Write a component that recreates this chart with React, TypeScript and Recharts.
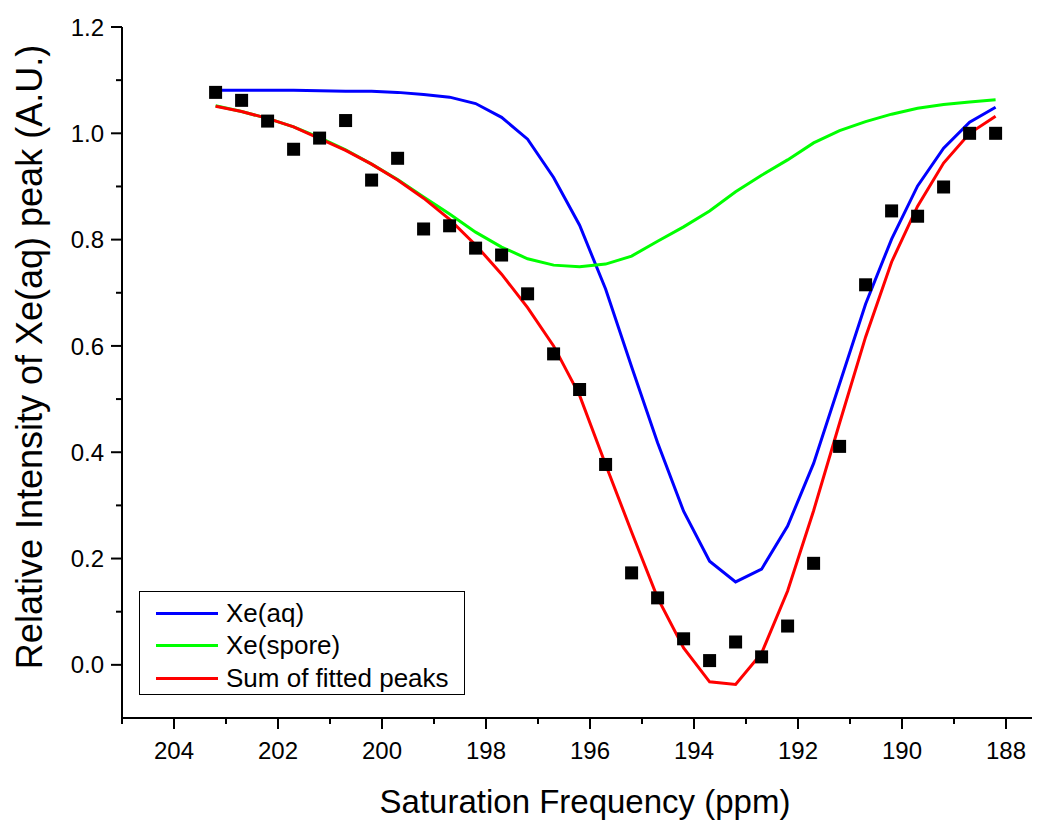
import React from "react";
import { ComposedChart, Line, Scatter, XAxis, YAxis, Label } from "recharts";

// saturation offsets (ppm), one per acquired spectrum
const freqPpm = [
  203.2, 202.7, 202.2, 201.7, 201.2, 200.7, 200.2, 199.7, 199.2, 198.7, 198.2,
  197.7, 197.2, 196.7, 196.2, 195.7, 195.2, 194.7, 194.2, 193.7, 193.2, 192.7,
  192.2, 191.7, 191.2, 190.7, 190.2, 189.7, 189.2, 188.7, 188.2,
];

// measured Xe(aq) peak intensity
const measured = [
  1.077, 1.062, 1.023, 0.97, 0.991, 1.024, 0.912, 0.953, 0.82, 0.826, 0.784,
  0.771, 0.698, 0.585, 0.518, 0.377, 0.173, 0.126, 0.049, 0.008, 0.043, 0.015,
  0.073, 0.191, 0.411, 0.715, 0.854, 0.844, 0.899, 1.0, 1.0,
];

// fitted components
const xeAq = [
  1.081, 1.081, 1.081, 1.081, 1.08, 1.079, 1.079, 1.077, 1.073, 1.068, 1.056,
  1.03, 0.989, 0.917, 0.827, 0.707, 0.561, 0.418, 0.289, 0.195, 0.156, 0.18,
  0.261, 0.379, 0.529, 0.679, 0.801, 0.901, 0.972, 1.021, 1.049,
];

const xeSpore = [
  1.052, 1.041, 1.028, 1.012, 0.992, 0.969, 0.942, 0.913, 0.88, 0.848, 0.814,
  0.786, 0.764, 0.752, 0.749, 0.754, 0.769, 0.797, 0.824, 0.854, 0.89, 0.921,
  0.95, 0.982, 1.005, 1.022, 1.036, 1.047, 1.054, 1.059, 1.063,
];

const sumFit = [
  1.051, 1.041, 1.028, 1.012, 0.99, 0.968, 0.942, 0.912, 0.878, 0.838, 0.79,
  0.735, 0.672, 0.6, 0.507, 0.377, 0.25, 0.126, 0.032, -0.032, -0.037, 0.022,
  0.139, 0.29, 0.455, 0.617, 0.758, 0.863, 0.944, 1.0, 1.032,
];

const xTicks = [188, 189, 190, 191, 192, 193, 194, 195, 196, 197, 198, 199, 200, 201, 202, 203, 204, 205];
const yTicks = [0, 0.1, 0.2, 0.3, 0.4, 0.5, 0.6, 0.7, 0.8, 0.9, 1.0, 1.1, 1.2];

const rows = freqPpm.map((ppm, i) => ({
  ppm,
  measured: measured[i],
  xeAq: xeAq[i],
  xeSpore: xeSpore[i],
  sumFit: sumFit[i],
}));

const font = "Arial, 'Liberation Sans', sans-serif";

const legendItems = [
  { name: "Xe(aq)", color: "#0000ff" },
  { name: "Xe(spore)", color: "#00ff00" },
  { name: "Sum of fitted peaks", color: "#ff0000" },
];

// even ppm values get a long tick and a label, odd ones a short tick
function XTick(props: any) {
  const { x, y, payload } = props;
  const v = payload.value;
  const major = v % 2 === 0;
  return (
    <g>
      <line x1={x} x2={x} y1={y} y2={y + (major ? 11 : 6)} stroke="#000" strokeWidth={2} />
      {major && (
        <text x={x} y={y + 41} textAnchor="middle" fontSize={24} fontFamily={font} fill="#000">
          {v}
        </text>
      )}
    </g>
  );
}

function YTick(props: any) {
  const { x, y, payload } = props;
  const v = Math.round(payload.value * 10);
  const major = v % 2 === 0;
  return (
    <g>
      <line x1={x} x2={x - (major ? 11 : 6)} y1={y} y2={y} stroke="#000" strokeWidth={2} />
      {major && (
        <text x={x - 18} y={y} dy="0.36em" textAnchor="end" fontSize={24} fontFamily={font} fill="#000">
          {(v / 10).toFixed(1)}
        </text>
      )}
    </g>
  );
}

// rotated y title, sitting a bit above the plot's vertical middle
function YTitle() {
  const cx = 29;
  const cy = 357;
  return (
    <text
      x={cx}
      y={cy}
      transform={`rotate(-90, ${cx}, ${cy})`}
      textAnchor="middle"
      dominantBaseline="central"
      fontSize={36}
      fontFamily={font}
      fill="#000"
    >
      Relative Intensity of Xe(aq) peak (A.U.)
    </text>
  );
}

function Square(props: any) {
  const { cx, cy } = props;
  return <rect x={cx - 6.5} y={cy - 6.5} width={13} height={13} fill="#000" />;
}

export default function App() {
  return (
    <div style={{ position: "absolute", left: 0, top: 0, width: 1047, height: 825, background: "#fff" }}>
      <ComposedChart width={1047} height={825} data={rows} margin={{ top: 27, right: 15, bottom: 0, left: 0 }}>
        <XAxis
          dataKey="ppm"
          type="number"
          domain={[187.5, 205]}
          reversed
          ticks={xTicks}
          interval={0}
          tick={<XTick />}
          tickSize={0}
          tickMargin={0}
          tickLine={false}
          height={107}
          axisLine={{ stroke: "#000", strokeWidth: 2 }}
          allowDataOverflow
        >
          <Label
            value="Saturation Frequency (ppm)"
            position="insideBottom"
            offset={12}
            dx={8}
            style={{ fontSize: 33, fontFamily: font, fill: "#000" }}
          />
        </XAxis>
        <YAxis
          type="number"
          domain={[-0.1, 1.2]}
          ticks={yTicks}
          interval={0}
          tick={<YTick />}
          tickSize={0}
          tickMargin={0}
          tickLine={false}
          width={122}
          axisLine={{ stroke: "#000", strokeWidth: 2 }}
          allowDataOverflow
        >
          <Label content={<YTitle />} />
        </YAxis>
        <Line dataKey="xeAq" type="linear" stroke="#0000ff" strokeWidth={3} dot={false} isAnimationActive={false} />
        <Line dataKey="xeSpore" type="linear" stroke="#00ff00" strokeWidth={3} dot={false} isAnimationActive={false} />
        <Line dataKey="sumFit" type="linear" stroke="#ff0000" strokeWidth={3} dot={false} isAnimationActive={false} />
        <Scatter dataKey="measured" shape={<Square />} isAnimationActive={false} />
      </ComposedChart>
      <div
        style={{
          position: "absolute",
          left: 139,
          top: 591,
          width: 326,
          height: 104,
          border: "1px solid #000",
          boxSizing: "border-box",
          background: "#fff",
          fontFamily: font,
          fontSize: 26,
          paddingTop: 5,
        }}
      >
        {legendItems.map((it) => (
          <div key={it.name} style={{ display: "flex", alignItems: "center", height: 32.5 }}>
            <span style={{ display: "inline-block", width: 62, height: 3, background: it.color, marginLeft: 16, marginRight: 8 }} />
            <span>{it.name}</span>
          </div>
        ))}
      </div>
    </div>
  );
}
